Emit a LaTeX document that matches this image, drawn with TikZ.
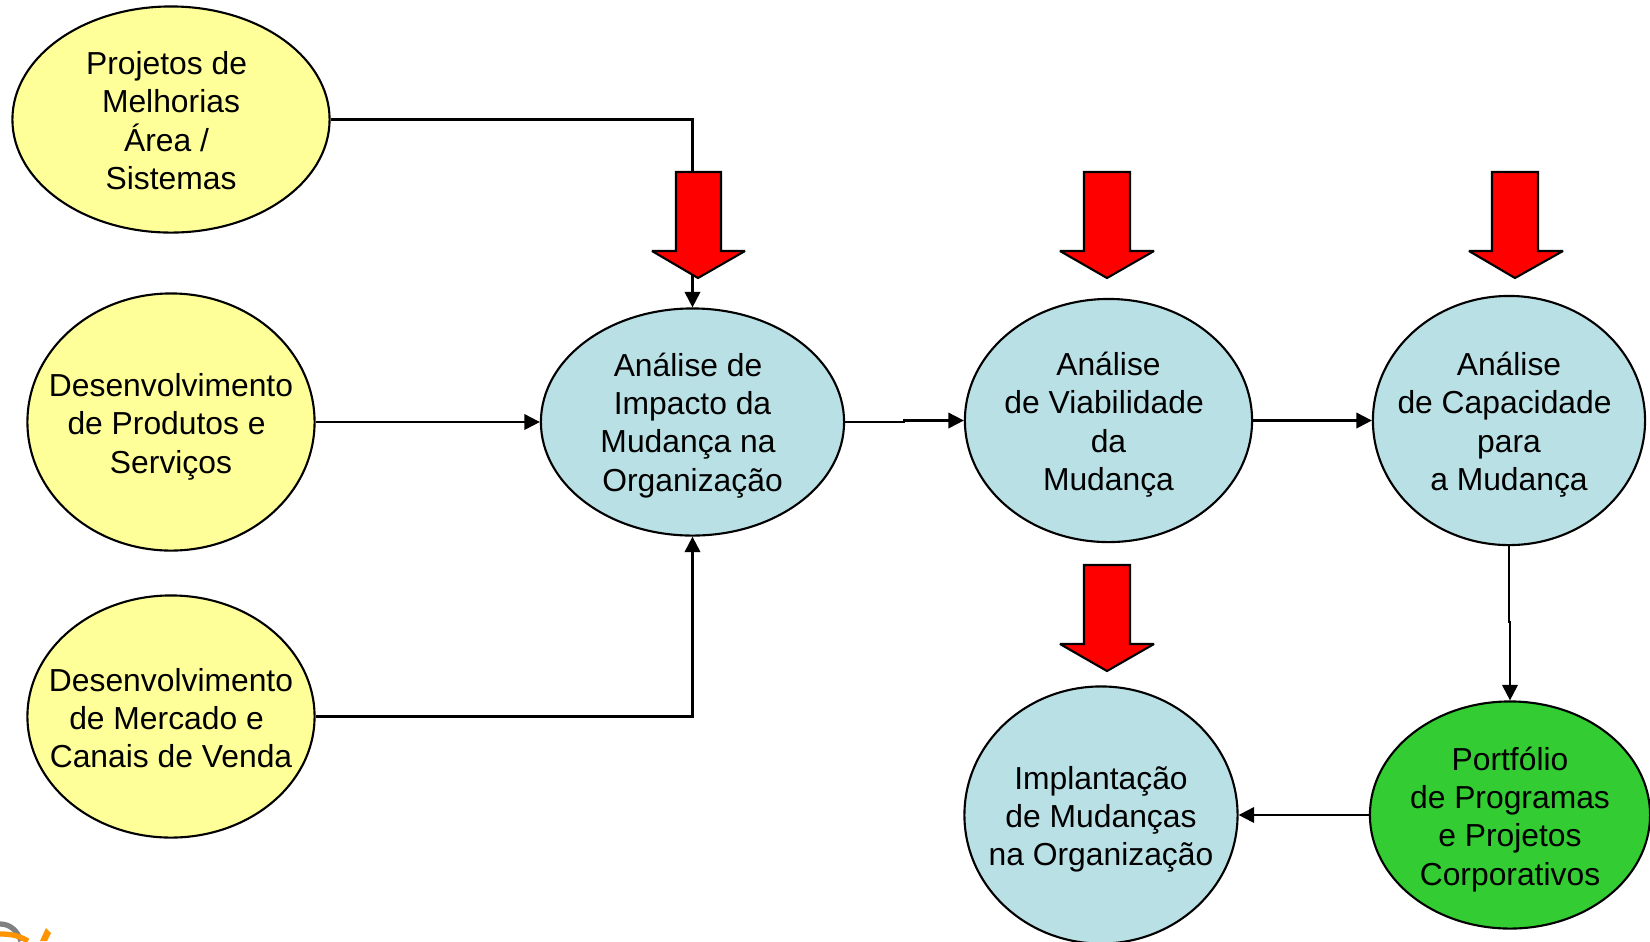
\documentclass[tikz,border=0pt]{standalone}
\usepackage{fontspec}
\setmainfont{Liberation Sans}
\usetikzlibrary{shapes.geometric,arrows.meta}
\definecolor{entrada}{HTML}{FFFF99}
\definecolor{analise}{HTML}{B9E0E4}
\definecolor{portfolio}{HTML}{33CC33}
\newcommand{\tsp}{\mbox{\ }}
\newcommand{\tdrop}[1]{\rule{0pt}{#1pt}}
\begin{document}
\begin{tikzpicture}[
    x=0.01cm, y=-0.01cm,
    stage/.style={ellipse, draw, line width=0.6pt, inner sep=-15pt, align=center,
        font=\fontsize{9.05}{10.9}\selectfont},
    input/.style={stage, fill=entrada},
    study/.style={stage, fill=analise},
    link/.style={line width=0.6pt, -{Triangle[length=4.4pt, width=4.4pt]}},
    alert/.style={draw, line width=0.6pt, fill=red, miter limit=2}
]
\useasboundingbox (0,0) rectangle (1650,941);

% Logo remnant at the corner
\draw[gray, line width=1.5pt] (0,924) to[out=0, in=110] (21,941);
\draw[orange!85!yellow, line width=1.5pt] (0,934) to[out=0, in=150] (28,941);
\fill[orange!85!yellow] (46,928) -- (51,933) -- (47,941) -- (40,941) -- cycle;

% Input ellipses
\node[input, minimum width=3.17cm, minimum height=2.26cm] (melhorias) at (171,119.5) {\tdrop{7.1}Projetos de\tsp\\Melhorias\\Área /\tsp\\Sistemas};
\node[input, minimum width=2.87cm, minimum height=2.57cm] (produtos) at (171,422) {\tdrop{9.3}Desenvolvimento\\de Produtos e\tsp\\Serviços};
\node[input, minimum width=2.87cm, minimum height=2.42cm] (mercado) at (171,716.5) {\tdrop{7.5}Desenvolvimento\\de Mercado e\tsp\\Canais de Venda};

% Analysis ellipses
\node[study, minimum width=3.03cm, minimum height=2.27cm] (impacto) at (692.5,422) {\tdrop{8.5}Análise de\tsp\\Impacto da\\Mudança na\tsp\\Organização};
\node[study, minimum width=2.87cm, minimum height=2.43cm] (viabilidade) at (1108.5,420.5) {\tdrop{9}Análise\\de Viabilidade\tsp\\da\\Mudança};
\node[study, minimum width=2.72cm, minimum height=2.49cm] (capacidade) at (1509,420.5) {\tdrop{9}Análise\\de Capacidade\tsp\\para\\a Mudança};
\node[study, minimum width=2.73cm, minimum height=2.57cm] (implantacao) at (1101,815) {\tdrop{9}Implantação\\de Mudanças\\na Organização};
\node[stage, fill=portfolio, minimum width=2.80cm, minimum height=2.27cm] (portfolio) at (1510,815) {\tdrop{9}Portfólio\\de Programas\\e Projetos\\Corporativos};

% Small jogs in two connectors
\coordinate (jogA) at (904,421);
\coordinate (jogB) at (1510,622);

% Connectors
\draw[link] (melhorias.east) -| (impacto.north);
\draw[link] (produtos.east) -- (impacto.west);
\draw[link] (mercado.east) -| (impacto.south);
\draw[link] (impacto.east) -| (jogA) |- (viabilidade.west);
\draw[link] (viabilidade.east) -- (capacidade.west);
\draw[link] (capacidade.south) |- (jogB) -- (portfolio.north);
\draw[link] (portfolio.west) -- (implantacao.east);

% Red block arrows
\draw[alert] (676,172) -- (721,172) -- (721,251) -- (745,251) -- (698,278) -- (652,251) -- (676,251) -- cycle;
\draw[alert] (1084,172) -- (1130,172) -- (1130,251) -- (1154,251) -- (1107,278) -- (1060,251) -- (1084,251) -- cycle;
\draw[alert] (1492,172) -- (1538,172) -- (1538,251) -- (1563,251) -- (1515,278) -- (1469,251) -- (1492,251) -- cycle;
\draw[alert] (1084,565) -- (1130,565) -- (1130,644) -- (1154,644) -- (1107,671) -- (1060,644) -- (1084,644) -- cycle;
\end{tikzpicture}
\end{document}
